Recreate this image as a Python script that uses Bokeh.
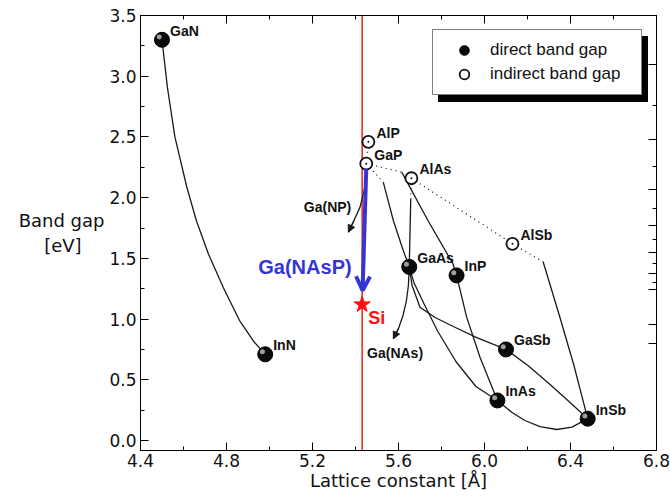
from bokeh.plotting import figure
from bokeh.models import (ColumnDataSource, Range1d, FixedTicker, SingleIntervalTicker, LinearAxis,
                          NumeralTickFormatter, CustomJSTickFormatter, Span, Arrow, OpenHead, NormalHead,
                          Legend, LegendItem)
from bokeh.transform import dodge
from bokeh.core.properties import value
from bokeh.embed import file_html
from bokeh.resources import INLINE

# ---------------- data ----------------
compounds = ["GaN", "InN", "AlP", "GaP", "AlAs", "AlSb", "GaAs", "InP", "GaSb", "InAs", "InSb"]
lattice   = [4.50, 4.98, 5.46, 5.45, 5.66, 6.13, 5.65, 5.87, 6.10, 6.06, 6.48]
band_gap  = [3.30, 0.71, 2.46, 2.28, 2.16, 1.62, 1.43, 1.36, 0.75, 0.33, 0.18]
gap_type  = ["direct", "direct", "indirect", "indirect", "indirect", "indirect",
             "direct", "direct", "direct", "direct", "direct"]

si_lattice = 5.431
si_gap = 1.12

# alloy curves, direct-gap branches (solid)
gan_inn_x   = [4.50, 4.525, 4.56, 4.615, 4.66, 4.715, 4.785, 4.86, 4.925, 4.98]
gan_inn_y   = [3.30, 2.91, 2.50, 2.09, 1.81, 1.54, 1.26, 0.99, 0.82, 0.71]
gaas_inas_x = [5.65, 5.672, 5.718, 5.783, 5.867, 5.96, 6.06]
gaas_inas_y = [1.43, 1.30, 1.128, 0.898, 0.651, 0.445, 0.33]
gaas_gasb_x = [5.65, 5.663, 5.70, 5.77, 5.855, 5.964, 6.10]
gaas_gasb_y = [1.43, 1.277, 1.098, 1.013, 0.939, 0.848, 0.75]
inas_insb_x = [6.06, 6.128, 6.188, 6.258, 6.336, 6.407, 6.48]
inas_insb_y = [0.33, 0.231, 0.165, 0.115, 0.091, 0.111, 0.18]
gasb_insb_x = [6.10, 6.202, 6.305, 6.398, 6.48]
gasb_insb_y = [0.75, 0.618, 0.461, 0.313, 0.18]
inp_inas_x  = [5.87, 5.917, 5.979, 6.06]
inp_inas_y  = [1.36, 1.016, 0.686, 0.33]
alsb_insb_x = [6.273, 6.351, 6.416, 6.48]
alsb_insb_y = [1.47, 1.013, 0.618, 0.18]
gap_inp_x   = [5.615, 5.737, 5.853, 5.87]
gap_inp_y   = [2.21, 1.812, 1.456, 1.36]
gap_gaas_x  = [5.529, 5.576, 5.622, 5.65]
gap_gaas_y  = [2.128, 1.812, 1.565, 1.43]
alas_gaas_x = [5.657, 5.65]
alas_gaas_y = [1.991, 1.43]

# indirect-gap branches (dotted)
alp_gap_x       = [5.46, 5.45]
alp_gap_y       = [2.46, 2.28]
gap_inp_ind_x   = [5.45, 5.615]
gap_inp_ind_y   = [2.28, 2.21]
gap_gaas_ind_x  = [5.45, 5.529]
gap_gaas_ind_y  = [2.28, 2.128]
alas_gaas_ind_x = [5.66, 5.657]
alas_gaas_ind_y = [2.16, 1.991]
alas_alsb_x     = [5.66, 6.13]
alas_alsb_y     = [2.16, 1.62]
alsb_insb_ind_x = [6.13, 6.273]
alsb_insb_ind_y = [1.62, 1.47]

# dilute nitride trends
ganp_x  = [5.455, 5.444, 5.421, 5.393, 5.367]
ganp_y  = [2.238, 2.087, 1.922, 1.812, 1.716]
ganas_x = [5.650, 5.646, 5.637, 5.621, 5.600, 5.576]
ganas_y = [1.428, 1.277, 1.153, 1.030, 0.923, 0.838]
ganasp_x = [5.45, 5.433]
ganasp_y = [2.24, 1.236]

trend_labels = ["Ga(NP)", "Ga(NAs)"]
trend_label_x = [5.27, 5.584]
trend_label_y = [1.92, 0.717]
ganasp_label = "Ga(NAsP)"
ganasp_label_x = 5.382
ganasp_label_y = 1.4275

# axis ticks
x_major = [4.4, 4.8, 5.2, 5.6, 6.0, 6.4, 6.8]
x_minor = [4.6, 5.0, 5.4, 5.8, 6.2, 6.6]
# right-hand wavelength axis (nm), unlabeled ticks
wl_major = [400, 500, 600, 700, 800, 900, 1000, 1300, 1550]
wl_minor = [450, 550, 650, 750, 850, 950]

x_title = "Lattice constant [Å]"
y_title_lines = ["Band gap", "[eV]"]

X_MIN, X_MAX = 4.4, 6.8
Y_MIN, Y_MAX = -0.082, 3.5

# ---------------- figure ----------------
p = figure(width=670, height=497, x_range=Range1d(X_MIN, X_MAX), y_range=Range1d(Y_MIN, Y_MAX),
           output_backend="svg", toolbar_location=None,
           min_border_left=140, min_border_right=14, min_border_top=15, min_border_bottom=47,
           background_fill_color="white", border_fill_color="white",
           outline_line_color="black", outline_line_width=1)
p.grid.visible = False

TICK_FONT = "DejaVu Sans"


def style_axis(ax, show_labels=True):
    ax.axis_line_color = "black"
    ax.axis_line_width = 1
    ax.major_tick_in = 8
    ax.major_tick_out = 0
    ax.minor_tick_in = 4
    ax.minor_tick_out = 0
    ax.major_tick_line_color = "black"
    ax.minor_tick_line_color = "black"
    ax.major_tick_line_width = 1
    ax.minor_tick_line_width = 1
    ax.major_label_text_font = TICK_FONT
    ax.major_label_text_font_size = "17px"
    ax.major_label_text_color = "#111111"
    if show_labels:
        ax.major_label_standoff = 3
    else:
        ax.major_label_standoff = 0
        ax.formatter = CustomJSTickFormatter(code="return ''")


p.xaxis.ticker = FixedTicker(ticks=x_major, minor_ticks=x_minor)
p.xaxis.formatter = NumeralTickFormatter(format="0.0")
p.yaxis.ticker = SingleIntervalTicker(interval=0.5, num_minor_ticks=2)
p.yaxis.formatter = NumeralTickFormatter(format="0.0")
style_axis(p.xaxis[0])
style_axis(p.yaxis[0])
p.yaxis.major_label_standoff = 4

p.xaxis.axis_label = x_title
p.xaxis.axis_label_standoff = 0
# horizontal two-line y title; the short line is padded with no-break spaces so that it
# sits centred under the long one (Bokeh right-aligns the lines of a left-axis title)
p.yaxis.axis_label = y_title_lines[0] + "\n" + y_title_lines[1] + "\u00a0" * 4
p.yaxis.axis_label_orientation = "horizontal"
p.yaxis.axis_label_standoff = 2
for ax in (p.xaxis[0], p.yaxis[0]):
    ax.axis_label_text_font = TICK_FONT
    ax.axis_label_text_font_size = "18px"
    ax.axis_label_text_font_style = "normal"
    ax.axis_label_text_color = "#111111"

top_axis = LinearAxis(ticker=FixedTicker(ticks=x_major, minor_ticks=x_minor))
style_axis(top_axis, show_labels=False)
p.add_layout(top_axis, "above")

E_major = [1239.84 / w for w in wl_major]
E_minor = [1239.84 / w for w in wl_minor]
right_axis = LinearAxis(ticker=FixedTicker(ticks=E_major, minor_ticks=E_minor))
style_axis(right_axis, show_labels=False)
p.add_layout(right_axis, "right")

# Si lattice constant line
p.add_layout(Span(location=si_lattice, dimension="height", line_color="#f01e1e",
                  line_width=1.5, level="underlay"))

# alloy curves
solid_xs = [gan_inn_x, gaas_inas_x, gaas_gasb_x, inas_insb_x, gasb_insb_x, inp_inas_x,
            alsb_insb_x, gap_inp_x, gap_gaas_x, alas_gaas_x]
solid_ys = [gan_inn_y, gaas_inas_y, gaas_gasb_y, inas_insb_y, gasb_insb_y, inp_inas_y,
            alsb_insb_y, gap_inp_y, gap_gaas_y, alas_gaas_y]
p.multi_line(xs=solid_xs, ys=solid_ys, line_color="#1a1a1a", line_width=1.3)

dot_xs = [alp_gap_x, gap_inp_ind_x, gap_gaas_ind_x, alas_gaas_ind_x, alas_alsb_x, alsb_insb_ind_x]
dot_ys = [alp_gap_y, gap_inp_ind_y, gap_gaas_ind_y, alas_gaas_ind_y, alas_alsb_y, alsb_insb_ind_y]
p.multi_line(xs=dot_xs, ys=dot_ys, line_color="#1a1a1a", line_width=1.3, line_dash="1 4")

# dilute nitride trend arrows
p.line(ganp_x, ganp_y, line_color="#1a1a1a", line_width=1.3)
p.line(ganas_x, ganas_y, line_color="#1a1a1a", line_width=1.3)
for tx, ty in ((ganp_x, ganp_y), (ganas_x, ganas_y)):
    p.add_layout(Arrow(end=NormalHead(size=7, fill_color="#1a1a1a", line_color="#1a1a1a"),
                       x_start=tx[-2], y_start=ty[-2], x_end=tx[-1], y_end=ty[-1],
                       line_color="#1a1a1a", line_width=1.3))

# compound markers
d_idx = [i for i, t in enumerate(gap_type) if t == "direct"]
i_idx = [i for i, t in enumerate(gap_type) if t == "indirect"]
src_d = ColumnDataSource(dict(x=[lattice[i] for i in d_idx], y=[band_gap[i] for i in d_idx]))
src_i = ColumnDataSource(dict(x=[lattice[i] for i in i_idx], y=[band_gap[i] for i in i_idx]))

r_dir = p.scatter("x", "y", source=src_d, marker="circle", size=15,
                  fill_color="#0a0a0a", line_color="#000000", line_width=1)
p.scatter(x=dodge("x", -0.013), y=dodge("y", 0.022), source=src_d, marker="circle", size=5,
          fill_color="#d0d0d0", fill_alpha=0.75, line_alpha=0)
r_ind = p.scatter("x", "y", source=src_i, marker="circle", size=12,
                  fill_color="white", line_color="#111111", line_width=1.8)
p.scatter("x", "y", source=src_i, marker="circle", size=2, fill_color="#111111", line_alpha=0)

# compound labels
src_lab = ColumnDataSource(dict(x=lattice, y=band_gap, t=compounds))
p.text("x", "y", text="t", source=src_lab, x_offset=8, y_offset=-9,
       text_font=value("Liberation Sans"), text_font_style="bold", text_font_size="14px",
       text_baseline="middle", text_align="left", text_color="#111111")

p.text(x=trend_label_x, y=trend_label_y, text=trend_labels,
       text_font=value("Liberation Sans"), text_font_style="bold", text_font_size="14px",
       text_baseline="middle", text_align="center", text_color="#111111")

# Ga(NAsP) arrow
blue = "#3535d4"
p.add_layout(Arrow(end=OpenHead(size=14, line_width=4, line_color=blue),
                   x_start=ganasp_x[0], y_start=ganasp_y[0], x_end=ganasp_x[1], y_end=ganasp_y[1],
                   line_color=blue, line_width=4))
p.text(x=[ganasp_label_x], y=[ganasp_label_y], text=[ganasp_label],
       text_font=value("Liberation Sans"), text_font_style="bold", text_font_size="20px",
       text_baseline="middle", text_align="right", text_color=blue)

# Si
p.scatter(x=[si_lattice], y=[si_gap], marker="star", size=17, fill_color="#ff1010",
          line_color="#ff1010")
p.text(x=[si_lattice], y=[si_gap], text=["Si"], x_offset=6, y_offset=13,
       text_font=value("Liberation Sans"), text_font_style="bold", text_font_size="18px",
       text_baseline="middle", text_align="left", text_color="#ff1010")

# legend with drop shadow (shadow = identical black legend, shifted 6px right, 7px down)
legend_geom = dict(padding=8, spacing=0, glyph_width=46, glyph_height=24, label_standoff=3,
                   label_width=143, label_height=24, label_text_font="Liberation Sans",
                   label_text_font_size="17px", border_line_width=1.5, background_fill_alpha=1)
shadow = Legend(items=[LegendItem(label=" ", renderers=[r_dir]),
                       LegendItem(label=" ", renderers=[r_dir])],
                location=(298, 348), label_text_color="black", label_text_alpha=0,
                border_line_color="black", background_fill_color="black", **legend_geom)
p.add_layout(shadow)
legend = Legend(items=[LegendItem(label="direct band gap", renderers=[r_dir]),
                       LegendItem(label="indirect band gap", renderers=[r_ind])],
                location=(292, 355), label_text_color="#111111",
                border_line_color="black", background_fill_color="white", **legend_geom)
p.add_layout(legend)

with open("out.html", "w") as f:
    f.write(file_html(p, INLINE))
